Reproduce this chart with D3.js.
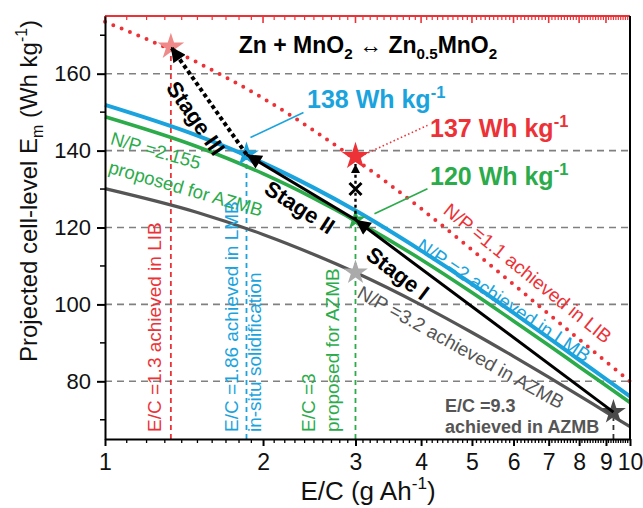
<!DOCTYPE html>
<html>
<head>
<meta charset="utf-8">
<script src="https://cdn.jsdelivr.net/npm/d3@7"></script>
<style>
  body { margin: 0; background: #fff; }
  text { font-family: Arial, "Liberation Sans", sans-serif; }
</style>
</head>
<body>
<div id="chart"></div>
<script>
// values
var ecGrid = [1, 1.5, 2, 2.5, 3, 4, 5, 6, 7, 8, 9, 10];
var npLIB = [173.5, 162.9, 153.6, 145.2, 137.7, 124.9, 114.2, 105.2, 97.5, 90.9, 85.1, 80.0];
var npLMB = [151.9, 143.9, 136.8, 130.3, 124.4, 114.0, 105.3, 97.8, 91.3, 85.6, 80.6, 76.1];
var npProposed = [148.8, 141.0, 134.0, 127.6, 121.8, 111.7, 103.1, 95.7, 89.4, 83.8, 78.9, 74.5];
var npAZMB = [130.1, 123.9, 118.2, 113.0, 108.3, 99.9, 92.7, 86.5, 81.1, 76.3, 72.0, 68.2];

var xTickValues = [1, 2, 3, 4, 5, 6, 7, 8, 9, 10];
var yTickValues = [80, 100, 120, 140, 160];
var yMinorValues = [70, 90, 110, 130, 150, 170];

// stage path: E/C 9.3 -> 3 -> 1.86 -> 1.3 (the 1.3 mark sits at ~1.335 in the figure)
var stageEC = [9.3, 3, 1.86, 1.335];
var stageE = [72, 122, 139, 167];

// vertical E/C markers
var markerEC = [1.335, 1.86, 3, 9.3];
var markerTop = [167, 139, 122, 72];

// stars
var starNames = ["lib13", "lmb186", "lib3", "prop3", "azmb3", "azmb93"];
var starEC = [1.335, 1.86, 3, 3, 3, 9.3];
var starE = [167, 139, 138.5, 122, 108.3, 72];

var crossEC = 3, crossE = 130;
var upArrowFrom = 122, upArrowTo = 136.5;

// colours
var red = "#ec3237", blue = "#1aa3dd", green = "#2bab4a", gray = "#555555";
var starColor = {lib13: "#f08a8a", lmb186: blue, lib3: red, prop3: green, azmb3: "#aaaaaa", azmb93: "#4a4a4a"};
var starRadius = {lib13: 14, lmb186: 13, lib3: 14.5, prop3: 11, azmb3: 13, azmb93: 13};

// setup SVG
var svgWidth = 643, svgHeight = 508;
var margin = {top: 16, right: 13, bottom: 69, left: 105};
var width = svgWidth - margin.left - margin.right;
var height = svgHeight - margin.top - margin.bottom;

var svg = d3.select("#chart").append("svg")
  .attr("width", svgWidth)
  .attr("height", svgHeight);

var defs = svg.append("defs");
defs.append("marker")
  .attr("id", "head")
  .attr("viewBox", "0 0 10 10")
  .attr("refX", 10).attr("refY", 5)
  .attr("markerWidth", 22).attr("markerHeight", 15)
  .attr("markerUnits", "userSpaceOnUse")
  .attr("orient", "auto")
  .append("path").attr("d", "M0,0L10,5L0,10Z").attr("fill", "#000");
defs.append("marker")
  .attr("id", "smallHead")
  .attr("viewBox", "0 0 10 10")
  .attr("refX", 10).attr("refY", 5)
  .attr("markerWidth", 10).attr("markerHeight", 9)
  .attr("markerUnits", "userSpaceOnUse")
  .attr("orient", "auto")
  .append("path").attr("d", "M0,0L10,5L0,10Z").attr("fill", "#000");

var chart = svg.append("g")
  .attr("transform", `translate(${margin.left}, ${margin.top})`);

var x = d3.scaleLog().domain([1, 10]).range([0, width]);
var y = d3.scaleLinear().domain([65, 175]).range([height, 0]);

// horizontal grid
chart.selectAll(".grid").data(yTickValues).enter()
  .append("line")
  .attr("x1", 0).attr("x2", width)
  .attr("y1", d => y(d)).attr("y2", d => y(d))
  .attr("stroke", "#808080").attr("stroke-width", 1.6)
  .attr("stroke-dasharray", "7,5");

// vertical E/C markers
var markerColor = [red, blue, green, "#333"];
markerEC.forEach(function(ec, i) {
  chart.append("line")
    .attr("x1", x(ec)).attr("x2", x(ec))
    .attr("y1", height).attr("y2", y(markerTop[i]))
    .attr("stroke", markerColor[i]).attr("stroke-width", 1.8)
    .attr("stroke-dasharray", "5,4");
});

// curves
var line = d3.line()
  .x(d => x(d[0]))
  .y(d => y(d[1]))
  .curve(d3.curveMonotoneX);

function pairs(vals) { return ecGrid.map((ec, i) => [ec, vals[i]]); }

chart.append("path").attr("d", line(pairs(npAZMB)))
  .attr("fill", "none").attr("stroke", gray).attr("stroke-width", 3.2);
chart.append("path").attr("d", line(pairs(npProposed)))
  .attr("fill", "none").attr("stroke", green).attr("stroke-width", 3.6);
chart.append("path").attr("d", line(pairs(npLMB)))
  .attr("fill", "none").attr("stroke", blue).attr("stroke-width", 4);
chart.append("path").attr("d", line(pairs(npLIB)))
  .attr("fill", "none").attr("stroke", red).attr("stroke-width", 4)
  .attr("stroke-linecap", "round").attr("stroke-dasharray", "0,9");

// connector lines for the value callouts
var sx = i => x(starEC[i]), sy = i => y(starE[i]);
chart.append("line")
  .attr("x1", sx(1) + 4).attr("y1", sy(1) - 17)
  .attr("x2", sx(1) + 57).attr("y2", sy(1) - 42)
  .attr("stroke", blue).attr("stroke-width", 1.6);
chart.append("line")
  .attr("x1", sx(2) + 9).attr("y1", sy(2) - 2)
  .attr("x2", sx(2) + 72).attr("y2", sy(2) - 31)
  .attr("stroke", red).attr("stroke-width", 1.6)
  .attr("stroke-dasharray", "1.5,2.5");
chart.append("line")
  .attr("x1", sx(3) + 19).attr("y1", sy(3) - 6)
  .attr("x2", sx(3) + 72).attr("y2", sy(3) - 31)
  .attr("stroke", green).attr("stroke-width", 1.6);

// stars
var star = d3.symbol().type(d3.symbolStar);
starNames.forEach(function(name, i) {
  var r = starRadius[name];
  chart.append("path")
    .attr("d", star.size(r * r / 0.8908130915292852)())
    .attr("transform", `translate(${x(starEC[i])}, ${y(starE[i])})`)
    .attr("fill", starColor[name]);
});

// vertical dotted arrow from proposed star up to LIB star, with the cross
chart.append("line")
  .attr("x1", x(crossEC)).attr("x2", x(crossEC))
  .attr("y1", y(upArrowFrom)).attr("y2", y(upArrowTo))
  .attr("stroke", "#000").attr("stroke-width", 2.4)
  .attr("stroke-dasharray", "3,3")
  .attr("marker-end", "url(#smallHead)");
var cx = x(crossEC), cy = y(crossE);
chart.append("path")
  .attr("d", `M${cx - 6},${cy - 6}L${cx + 6},${cy + 6}M${cx - 6},${cy + 6}L${cx + 6},${cy - 6}`)
  .attr("stroke", "#000").attr("stroke-width", 3);

// stage arrows
for (var i = 0; i < 3; i++) {
  var seg = chart.append("line")
    .attr("x1", x(stageEC[i])).attr("y1", y(stageE[i]))
    .attr("x2", x(stageEC[i + 1])).attr("y2", y(stageE[i + 1]))
    .attr("stroke", "#000")
    .attr("marker-end", "url(#head)");
  if (i < 2) seg.attr("stroke-width", 3);
  else seg.attr("stroke-width", 4).attr("stroke-dasharray", "4,3");
}

// axes
var xAxis = d3.axisBottom(x).tickValues(xTickValues).tickFormat(d3.format("d"))
  .tickSizeInner(7).tickSizeOuter(0).tickPadding(8);
var gx = chart.append("g").attr("transform", `translate(0, ${height})`).call(xAxis);
gx.selectAll("text").attr("font-size", 23).attr("fill", "#111")
  .style("font-family", "Arial, 'Liberation Sans', sans-serif");
gx.selectAll("line, path").attr("stroke", "#000").attr("stroke-width", 2);

// log minor ticks every 0.1 decade-step
var xMinorVals = [];
for (var k = 1; k < 10; k++) for (var j = 1; j < 10; j++) xMinorVals.push(k + j / 10);

chart.selectAll(".xminor").data(xMinorVals).enter().append("line")
  .attr("x1", d => x(d)).attr("x2", d => x(d))
  .attr("y1", height).attr("y2", height + 4)
  .attr("stroke", "#000").attr("stroke-width", 1.3);

// top axis in red, ticks inward
chart.append("line").attr("x1", 0).attr("x2", width).attr("y1", 0).attr("y2", 0)
  .attr("stroke", red).attr("stroke-width", 2);
chart.selectAll(".xtop").data(xTickValues).enter().append("line")
  .attr("x1", d => x(d)).attr("x2", d => x(d))
  .attr("y1", 0).attr("y2", 7)
  .attr("stroke", red).attr("stroke-width", 1.6);
chart.selectAll(".xtopminor").data(xMinorVals).enter().append("line")
  .attr("x1", d => x(d)).attr("x2", d => x(d))
  .attr("y1", 0).attr("y2", 4)
  .attr("stroke", red).attr("stroke-width", 1.2);

// right border
chart.append("line").attr("x1", width).attr("x2", width).attr("y1", 0).attr("y2", height)
  .attr("stroke", "#000").attr("stroke-width", 2);

var yAxis = d3.axisLeft(y).tickValues(yTickValues)
  .tickSizeInner(8).tickSizeOuter(0).tickPadding(6);
var gy = chart.append("g").call(yAxis);
gy.selectAll("text").attr("font-size", 22).attr("fill", "#111")
  .style("font-family", "Arial, 'Liberation Sans', sans-serif");
gy.selectAll("line, path").attr("stroke", "#000").attr("stroke-width", 2);
chart.selectAll(".yminor").data(yMinorValues).enter().append("line")
  .attr("x1", -5).attr("x2", 0)
  .attr("y1", d => y(d)).attr("y2", d => y(d))
  .attr("stroke", "#000").attr("stroke-width", 1.5);

// text helper
function addText(o) {
  var t = svg.append("text")
    .attr("transform", `translate(${o.x}, ${o.y}) rotate(${o.rot || 0})`)
    .attr("text-anchor", o.anchor || "start")
    .attr("font-size", o.size)
    .attr("font-weight", o.bold ? "bold" : "normal")
    .attr("fill", o.color || "#000");
  if (o.center) t.attr("dominant-baseline", "central");
  var shift = 0;
  o.parts.forEach(function(p) {
    var target = p[1] === "sup" ? -o.size * 0.42 : p[1] === "sub" ? o.size * 0.25 : 0;
    var ts = t.append("tspan").text(p[0]).attr("dy", target - shift);
    if (p[1]) ts.attr("font-size", o.size * 0.66);
    if (p[2]) ts.attr("font-weight", p[2]);
    shift = target;
  });
  return t;
}

// title
addText({x: 368, y: 53, anchor: "middle", size: 23, bold: true,
  parts: [["Zn + MnO"], ["2", "sub"], [" \u2194 ", null, "normal"], ["Zn"], ["0.5", "sub"], ["MnO"], ["2", "sub"]]});

// value callouts
addText({x: 307, y: 108, size: 25, bold: true, color: blue, parts: [["138 Wh kg"], ["-1", "sup"]]});
addText({x: 430, y: 137, size: 25, bold: true, color: red, parts: [["137 Wh kg"], ["-1", "sup"]]});
addText({x: 430, y: 185, size: 25, bold: true, color: green, parts: [["120 Wh kg"], ["-1", "sup"]]});

// curve labels
addText({x: 528, y: 273, rot: 39, anchor: "middle", center: true, size: 19, color: red, parts: [["N/P =1.1 achieved in LIB"]]});
addText({x: 504, y: 300, rot: 34, anchor: "middle", center: true, size: 19, color: blue, parts: [["N/P =2 achieved in LMB"]]});
addText({x: 461, y: 347, rot: 29, anchor: "middle", center: true, size: 19, color: gray, parts: [["N/P =3.2 achieved in AZMB"]]});
addText({x: 156, y: 150, rot: 16, anchor: "middle", center: true, size: 18.5, color: green, parts: [["N/P =2.155"]]});
addText({x: 186, y: 188, rot: 16, anchor: "middle", center: true, size: 18.5, color: green, parts: [["proposed for AZMB"]]});

// stage labels
addText({x: 196, y: 118, rot: 55, anchor: "middle", center: true, size: 22, bold: true, parts: [["Stage III"]]});
addText({x: 300, y: 207, rot: 33, anchor: "middle", center: true, size: 22, bold: true, parts: [["Stage II"]]});
addText({x: 398, y: 273, rot: 37, anchor: "middle", center: true, size: 22, bold: true, parts: [["Stage I"]]});

// vertical E/C labels
addText({x: 161, y: 432, rot: -90, size: 19, color: red, parts: [["E/C =1.3 achieved in LIB"]]});
addText({x: 238, y: 432, rot: -90, size: 19, color: blue, parts: [["E/C =1.86 achieved in LMB"]]});
addText({x: 261, y: 432, rot: -90, size: 19, color: blue, parts: [["in-situ solidification"]]});
addText({x: 315, y: 432, rot: -90, size: 19, color: green, parts: [["E/C =3"]]});
addText({x: 339, y: 432, rot: -90, size: 19, color: green, parts: [["proposed for AZMB"]]});

addText({x: 445, y: 412, size: 18, bold: true, color: gray, parts: [["E/C =9.3"]]});
addText({x: 445, y: 433, size: 18, bold: true, color: gray, parts: [["achieved in AZMB"]]});

// axis titles
addText({x: 37, y: 191, rot: -90, anchor: "middle", size: 24, color: "#111",
  parts: [["Projected cell-level E"], ["m", "sub"], [" (Wh kg"], ["-1", "sup"], [")"]]});
addText({x: 368, y: 500, anchor: "middle", size: 26, color: "#111",
  parts: [["E/C (g Ah"], ["-1", "sup"], [")"]]});
</script>
</body>
</html>
